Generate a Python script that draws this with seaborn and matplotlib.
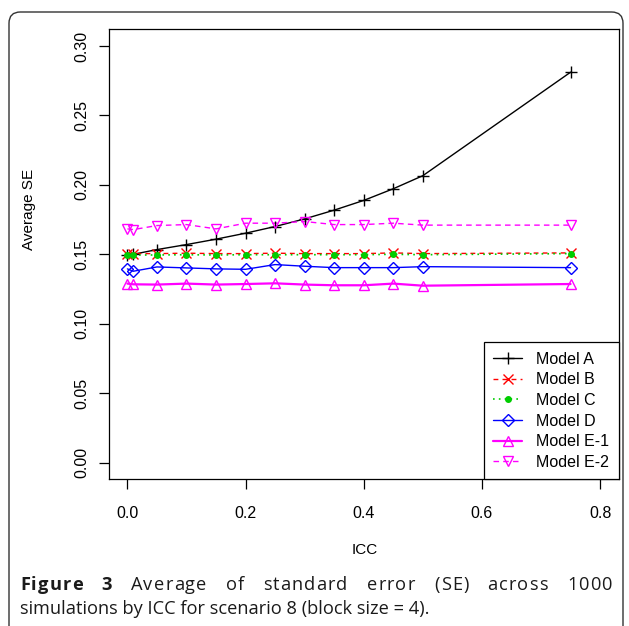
import numpy as np
import pandas as pd
import matplotlib
matplotlib.use("Agg")
import matplotlib.pyplot as plt
import seaborn as sns
from matplotlib.lines import Line2D
from matplotlib.patches import FancyBboxPatch

# ---------------- data ----------------
icc = [0, 0.01, 0.05, 0.1, 0.15, 0.2, 0.25, 0.3, 0.35, 0.4, 0.45, 0.5, 0.75]
model_a = [0.1492, 0.1500, 0.1534, 0.1570, 0.1609, 0.1652, 0.1700, 0.1755, 0.1818, 0.1888, 0.1972, 0.2066, 0.2811]
model_b = [0.1505, 0.1505, 0.1505, 0.1508, 0.1505, 0.1505, 0.1508, 0.1505, 0.1505, 0.1505, 0.1510, 0.1505, 0.1510]
model_c = [0.1493, 0.1495, 0.1495, 0.1497, 0.1495, 0.1497, 0.1497, 0.1497, 0.1497, 0.1497, 0.1500, 0.1497, 0.1505]
model_d = [0.1395, 0.1378, 0.1409, 0.1402, 0.1395, 0.1392, 0.1426, 0.1414, 0.1404, 0.1404, 0.1404, 0.1411, 0.1404]
model_e1 = [0.1289, 0.1284, 0.1282, 0.1289, 0.1282, 0.1286, 0.1291, 0.1282, 0.1277, 0.1277, 0.1289, 0.1274, 0.1286]
model_e2 = [0.1683, 0.1678, 0.1707, 0.1714, 0.1683, 0.1724, 0.1724, 0.1736, 0.1714, 0.1714, 0.1724, 0.1710, 0.1710]
labels = ["Model A", "Model B", "Model C", "Model D", "Model E-1", "Model E-2"]
x_ticks = [0.0, 0.2, 0.4, 0.6, 0.8]
y_ticks = [0.00, 0.05, 0.10, 0.15, 0.20, 0.25, 0.30]
caption_line1 = [("Figure", "bold"), ("3", "bold"), ("Average", "normal"), ("of", "normal"),
                 ("standard", "normal"), ("error", "normal"), ("(SE)", "normal"),
                 ("across", "normal"), ("1000", "normal")]
caption_line2 = "simulations by ICC for scenario 8 (block size = 4)."

sns.set_theme(style="white")
plt.rcParams['font.family'] = ['Liberation Sans', 'DejaVu Sans']

W, H = 629, 626
fig = plt.figure(figsize=(W / 100, H / 100), dpi=100)
fig.patch.set_facecolor("white")

ax_l, ax_r, ax_t, ax_b = 108.5, 619.0, 29.3, 479.3
ax = fig.add_axes([ax_l / W, (H - ax_b) / H, (ax_r - ax_l) / W, (ax_b - ax_t) / H])
ax.set_facecolor("white")

styles = [
    # values, color, marker, dashes, lw, ms, filled
    (model_a, "black", "+", None, 1.0, 8.5, True),
    (model_b, "#FF0000", "x", (3.5, 3.0), 1.0, 6.5, True),
    (model_c, "#00CD00", "o", (1.0, 2.5), 1.2, 4, True),
    (model_d, "#0000FF", "D", None, 1.0, 6.5, False),
    (model_e1, "#FF00FF", "^", None, 1.6, 7.5, False),
    (model_e2, "#FF00FF", "v", (4.0, 3.0), 1.0, 7.5, False),
]

handles = []
for lab, (vals, col, mk, dsh, lw, ms, filled) in zip(labels, styles):
    df = pd.DataFrame({"ICC": icc, "SE": vals})
    line_kw = dict(color=col, linewidth=lw, zorder=2)
    if dsh is not None:
        line_kw["dashes"] = dsh
    sns.lineplot(data=df, x="ICC", y="SE", ax=ax, legend=False, **line_kw)
    mkw = dict(marker=mk, markersize=ms, linestyle="none", zorder=4,
               markeredgecolor=col, markeredgewidth=1.0,
               markerfacecolor=col if filled else "none")
    sns.lineplot(data=df, x="ICC", y="SE", ax=ax, legend=False, color=col, **mkw)
    h = Line2D([], [], color=col, linewidth=lw,
               linestyle=(0, dsh) if dsh is not None else "-",
               **{k: v for k, v in mkw.items() if k not in ("linestyle", "zorder")})
    handles.append(h)

ax.set_xlim(-0.032, 0.832)
ax.set_ylim(-0.012, 0.312)
ax.set_xticks(x_ticks)
ax.set_xticklabels([f"{v:.1f}" for v in x_ticks])
ax.set_yticks(y_ticks)
ax.set_yticklabels([f"{v:.2f}" for v in y_ticks], rotation=90, va="center")
ax.tick_params(axis="both", direction="out", length=7, width=0.9, color="black",
               labelsize=11.5, labelcolor="black", bottom=True, left=True)
ax.tick_params(axis="x", pad=12)
ax.tick_params(axis="y", pad=7)
for s in ax.spines.values():
    s.set_color("black")
    s.set_linewidth(0.9)
ax.grid(False)

ax.set_xlabel("ICC", fontsize=11, color="black", va="center")
ax.set_ylabel("Average SE", fontsize=11, color="black", va="center")
ax.xaxis.set_label_coords((365 - ax_l) / (ax_r - ax_l), (ax_b - 550) / (ax_b - ax_t))
ax.yaxis.set_label_coords((29 - ax_l) / (ax_r - ax_l), (ax_b - 209) / (ax_b - ax_t))

leg = ax.legend(handles=handles, labels=labels, loc="lower right", bbox_to_anchor=(1, 0),
                borderaxespad=0, fancybox=False, framealpha=1, edgecolor="black",
                fontsize=11.5, handlelength=1.8, handletextpad=0.9, labelspacing=0.35,
                borderpad=0.6)
leg.get_frame().set_linewidth(0.9)
for t in leg.get_texts():
    t.set_color("black")

# outer rounded frame
frame = FancyBboxPatch((9 / W, -0.2), (623 - 9) / W, (H - 12) / H + 0.2,
                       boxstyle="round,pad=0,rounding_size=0.018",
                       transform=fig.transFigure, facecolor="none",
                       edgecolor="#333333", linewidth=1.0, zorder=0)
fig.add_artist(frame)

# caption
cap_font = ["Open Sans", "DejaVu Sans"]
cap_col = "#1a1a1a"
renderer = fig.canvas.get_renderer()
fs = 11.0
t2 = fig.text(20 / W, 1 - 614 / H, caption_line2, fontsize=fs, family=cap_font, color=cap_col,
              ha="left", va="baseline")
w2 = t2.get_window_extent(renderer).width
fs = fs * 410 / w2
t2.set_fontsize(fs)


def text_width(s, wt):
    tmp = fig.text(0, 0, s, fontsize=fs, family=cap_font, fontweight=wt)
    w = tmp.get_window_extent(renderer).width
    tmp.remove()
    return w


# first line: justified with slight letter spacing (kerning kept via prefix widths)
words = []
for w, wt in caption_line1:
    offs = [0.0] + [text_width(w[:j], wt) for j in range(1, len(w))]
    words.append((w, wt, offs, text_width(w, wt)))
x0, x1 = 20, 612
word_gap = 19.0
total_w = sum(ww for *_, ww in words)
n_inner = sum(len(w) - 1 for w, *_ in words)
track = max(0.0, (x1 - x0 - total_w - word_gap * (len(words) - 1)) / n_inner)
gap = (x1 - x0 - total_w - track * n_inner) / (len(words) - 1)
x = x0
for w, wt, offs, ww in words:
    for j, ch in enumerate(w):
        fig.text((x + offs[j] + j * track) / W, 1 - 590 / H, ch, fontsize=fs, family=cap_font,
                 fontweight=wt, color=cap_col, ha="left", va="baseline")
    x += ww + track * (len(w) - 1) + gap

fig.savefig("out.png", dpi=100, facecolor="white")
